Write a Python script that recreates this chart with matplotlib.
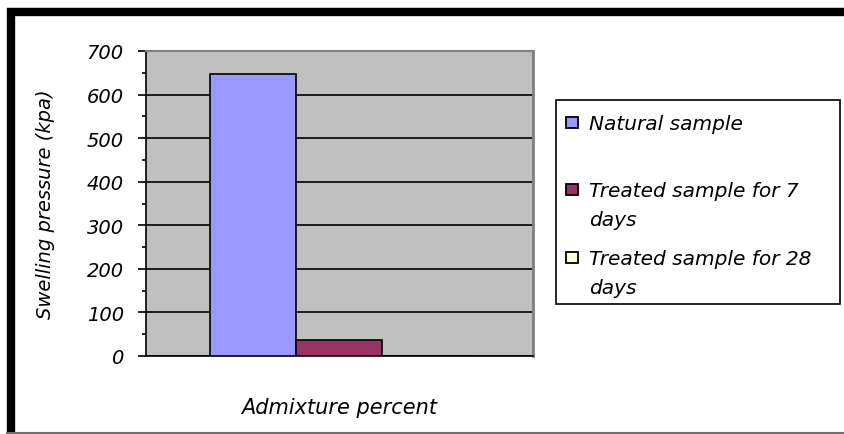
import matplotlib
matplotlib.use("Agg")
import matplotlib.pyplot as plt
from matplotlib.lines import Line2D
from matplotlib.patches import Rectangle
from matplotlib.ticker import MultipleLocator

# ---- data ----
series_names = ["Natural sample", "Treated sample for 7\ndays", "Treated sample for 28\ndays"]
series_values = [647, 37, 0]
series_colors = ["#9999FF", "#993366", "#FFFFCC"]
category_label = "Admixture percent"
y_label = "Swelling pressure (kpa)"
y_ticks = [0, 100, 200, 300, 400, 500, 600, 700]

W, H = 845, 435
fig = plt.figure(figsize=(W / 100, H / 100), dpi=100)
fig.patch.set_facecolor("white")

def fx(px):
    return px / W

def fy(py):
    return 1 - py / H

# outer frame (thick black top/left, thin grey bottom)
fig.add_artist(Line2D([fx(7), fx(845)], [fy(9), fy(9)], color="#a0a0a0", lw=1.0))
fig.add_artist(Line2D([fx(7), fx(845)], [fy(13), fy(13)], color="black", lw=6.0, solid_capstyle="butt"))
fig.add_artist(Line2D([fx(11), fx(11)], [fy(9), fy(433)], color="black", lw=6.0, solid_capstyle="butt"))
fig.add_artist(Line2D([fx(7), fx(845)], [fy(433.5), fy(433.5)], color="#707070", lw=1.5))

# plot area
ax = fig.add_axes([fx(146), fy(357), (533 - 146) / W, (357 - 52) / H])
ax.set_facecolor("#C0C0C0")

n = len(series_values)
w = (2.0 / 3.0) / n
for i, (name, val, col) in enumerate(zip(series_names, series_values, series_colors)):
    ax.bar((i - (n - 1) / 2) * w, val, width=w, color=col, edgecolor="black",
           linewidth=1.2, zorder=3)

ax.set_xlim(-0.5, 0.5)
ax.set_ylim(0, 700)
ax.set_yticks(y_ticks)
ax.yaxis.set_minor_locator(MultipleLocator(50))
ax.set_xticks([])
ax.set_axisbelow(True)
ax.yaxis.grid(True, color="black", linewidth=1.2)

ax.spines["left"].set_color("black")
ax.spines["left"].set_linewidth(1.2)
ax.spines["bottom"].set_color("black")
ax.spines["bottom"].set_linewidth(1.2)
ax.spines["top"].set_color("#808080")
ax.spines["top"].set_linewidth(1.5)
ax.spines["right"].set_color("#808080")
ax.spines["right"].set_linewidth(2.0)

ax.tick_params(axis="y", which="major", direction="out", length=6, width=1.2,
               color="black", pad=10, labelsize=14)
ax.tick_params(axis="y", which="minor", direction="out", length=3, width=1.2, color="black")
for lab in ax.get_yticklabels():
    lab.set_fontstyle("italic")

ax.set_ylabel(y_label, fontsize=14, fontstyle="italic")
ax.yaxis.set_label_coords((55 - 146) / 387, 0.5)
ax.set_xlabel(category_label, fontsize=15, fontstyle="italic")
ax.xaxis.set_label_coords(0.5, (357 - 398) / 305)

# legend box (drawn manually to match first-line alignment of handles)
fig.add_artist(Rectangle((fx(556), fy(305)), (840 - 556) / W, (305 - 101) / H,
                         transform=fig.transFigure, facecolor="white",
                         edgecolor="black", linewidth=1.2))
line_y = [123, 190, 258]
for name, col, yy in zip(series_names, series_colors, line_y):
    fig.add_artist(Rectangle((fx(566), fy(yy + 6)), 12 / W, 11 / H,
                             transform=fig.transFigure, facecolor=col,
                             edgecolor="black", linewidth=1.3))
    for k, part in enumerate(name.split("\n")):
        fig.text(fx(589), fy(yy + 7 + 29 * k), part, fontsize=14.5,
                 fontstyle="italic", ha="left", va="baseline",
                 transform=fig.transFigure)

fig.savefig("out.png", dpi=100)
